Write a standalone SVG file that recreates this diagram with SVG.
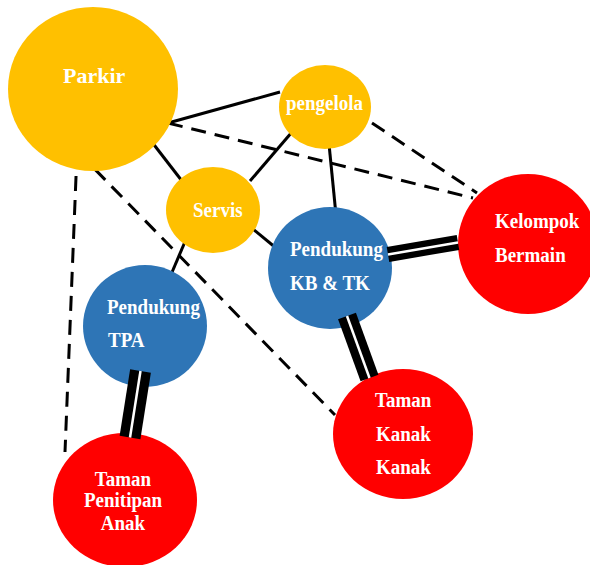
<svg xmlns="http://www.w3.org/2000/svg" width="590" height="565" viewBox="0 0 590 565">
<style>
.y{fill:#FFC000}
.b{fill:#2E75B6}
.r{fill:#FF0000}
.t{font-family:"Liberation Serif","Times New Roman",serif;font-weight:bold;font-size:19px;fill:#FFFFFF}
.m{text-anchor:middle}
.s{stroke:#000;stroke-width:3;fill:none}
.d{stroke:#000;stroke-width:3;fill:none;stroke-dasharray:15 9}
.dk{stroke:#000;fill:none}
.dw{stroke:#FFF;fill:none;stroke-width:2.5}
</style>
<rect width="590" height="565" fill="#FFFFFF"/>
<g id="connectors">
<line class="s" x1="280" y1="92" x2="168" y2="123"/>
<line class="d" x1="168" y1="123" x2="473" y2="198"/>
<line class="d" x1="372" y1="123" x2="477" y2="193"/>
<line class="s" x1="148" y1="137" x2="182" y2="181"/>
<line class="s" x1="298" y1="125" x2="250" y2="181"/>
<line class="s" x1="329" y1="144" x2="336" y2="215"/>
<line class="s" x1="253" y1="229" x2="276" y2="248"/>
<line class="s" x1="187" y1="237" x2="170" y2="277"/>
<line class="d" x1="78" y1="152" x2="335" y2="415"/>
<line class="d" x1="77" y1="152" x2="65" y2="452"/>
</g>
<g id="parkir"><ellipse class="y" cx="93" cy="89" rx="85" ry="82"/><text class="t" x="63" y="83" style="font-size:22px">Parkir</text></g>
<g id="pengelola"><ellipse class="y" cx="325" cy="107" rx="46" ry="42"/><text class="t" transform="translate(286,110) scale(1,1.1)">pengelola</text></g>
<g id="servis"><ellipse class="y" cx="213" cy="210" rx="47" ry="43"/><text class="t" transform="translate(193,217) scale(1,1.1)">Servis</text></g>
<g id="pendukung-kbtk"><ellipse class="b" cx="330" cy="268" rx="62" ry="61"/><text class="t" transform="translate(290,256) scale(1,1.1)">Pendukung</text><text class="t" transform="translate(290,290) scale(1,1.1)">KB &amp; TK</text></g>
<g id="kelompok-bermain"><circle class="r" cx="528" cy="244" r="70"/><text class="t" transform="translate(495,228) scale(1,1.1)">Kelompok</text><text class="t" transform="translate(495,262) scale(1,1.1)">Bermain</text></g>
<g id="pendukung-tpa"><ellipse class="b" cx="145" cy="326" rx="62" ry="61"/><text class="t" transform="translate(107,314) scale(1,1.1)">Pendukung</text><text class="t" transform="translate(108,347) scale(1,1.1)">TPA</text></g>
<g id="taman-kanak-kanak"><ellipse class="r" cx="403" cy="434" rx="70" ry="65"/><text class="t" transform="translate(375,407) scale(1,1.1)">Taman</text><text class="t" transform="translate(376,441) scale(1,1.1)">Kanak</text><text class="t" transform="translate(376,474) scale(1,1.1)">Kanak</text></g>
<g id="taman-penitipan-anak"><ellipse class="r" cx="125" cy="500" rx="72" ry="67"/><text class="t m" transform="translate(123,486) scale(1,1.1)">Taman</text><text class="t m" transform="translate(123,507) scale(1,1.1)">Penitipan</text><text class="t m" transform="translate(123,530) scale(1,1.1)">Anak</text></g>
<g id="double-connectors">
<line class="dk" stroke-width="15" x1="388" y1="254.5" x2="458" y2="242.5"/>
<line class="dw" x1="388" y1="254.5" x2="458" y2="242.5"/>
<line class="dk" stroke-width="19" x1="347" y1="316" x2="369.5" y2="378"/>
<line class="dw" x1="347" y1="316" x2="369.5" y2="378"/>
<line class="dk" stroke-width="21" x1="140.5" y1="371" x2="130" y2="437.5"/>
<line class="dw" x1="140.5" y1="371" x2="130" y2="437.5"/>
</g>
</svg>
